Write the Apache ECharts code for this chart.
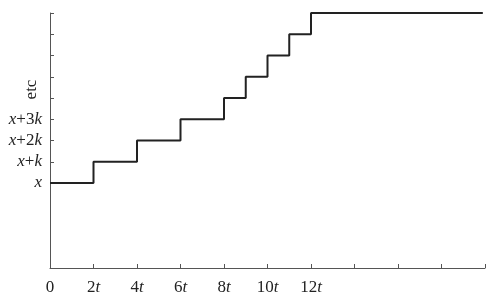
<!DOCTYPE html>
<html><head><meta charset="utf-8">
<script src="https://cdn.jsdelivr.net/npm/echarts@6/dist/echarts.min.js"></script>
<style>html,body{margin:0;padding:0;background:#fff}#c{width:492px;height:304px}</style>
</head><body><div id="c"></div>
<script>
// step data: [time in units of t, level in units of k above 0]
var stepTimes  = [0, 2, 4, 6, 8, 9, 10, 11, 12, 19.9];
var stepLevels = [4, 5, 6, 7, 8, 9, 10, 11, 12, 12];
var xTickValues  = [0, 2, 4, 6, 8, 10, 12, 14, 16, 18, 20];
var xLabelValues = [0, 2, 4, 6, 8, 10, 12];
var yTickValues  = [4, 5, 6, 7, 8, 9, 10, 11, 12];
var yLabelValues = [4, 5, 6, 7];
var yLabelTexts  = ['{i|x}', '{i|x}+{i|k}', '{i|x}+2{i|k}', '{i|x}+3{i|k}'];
var etcValue = 8.4;
var etcText = 'etc';

var serif = '"Liberation Serif","DejaVu Serif",serif';
var rich = {i: {fontStyle: 'italic', fontFamily: serif, fontSize: 17, color: '#222'}};
var data = stepTimes.map(function (t, i) { return [t, stepLevels[i]]; });

var chart = echarts.init(document.getElementById('c'));
chart.setOption({
  animation: false,
  grid: {left: 50, right: 7, top: 13, bottom: 36},
  xAxis: {
    type: 'value', min: 0, max: 20, interval: 2,
    axisLine: {lineStyle: {color: '#555', width: 1}},
    axisTick: {inside: true, length: 4, customValues: xTickValues, lineStyle: {color: '#555'}},
    splitLine: {show: false},
    axisLabel: {
      customValues: xLabelValues, margin: 11,
      fontFamily: serif, fontSize: 17, color: '#222', rich: rich,
      formatter: function (v) { return v === 0 ? '0' : v + '{i|t}'; }
    }
  },
  yAxis: [{
    type: 'value', min: 0, max: 12, interval: 1,
    axisLine: {show: true, lineStyle: {color: '#555', width: 1}},
    axisTick: {show: true, inside: true, length: 4, customValues: yTickValues, lineStyle: {color: '#555'}},
    splitLine: {show: false},
    axisLabel: {
      customValues: yLabelValues, margin: 8,
      fontFamily: serif, fontSize: 17, color: '#222', rich: rich,
      formatter: function (v) { return yLabelTexts[yLabelValues.indexOf(v)]; }
    }
  }, {
    type: 'value', min: 0, max: 12, position: 'left',
    axisLine: {show: false}, axisTick: {show: false}, splitLine: {show: false},
    axisLabel: {
      customValues: [etcValue], rotate: 90, margin: 10,
      fontFamily: serif, fontSize: 17, color: '#222',
      formatter: function () { return etcText; }
    }
  }],
  series: [{
    type: 'line', step: 'end', data: data, symbol: 'none',
    lineStyle: {color: '#222', width: 2}
  }]
});
</script></body></html>
